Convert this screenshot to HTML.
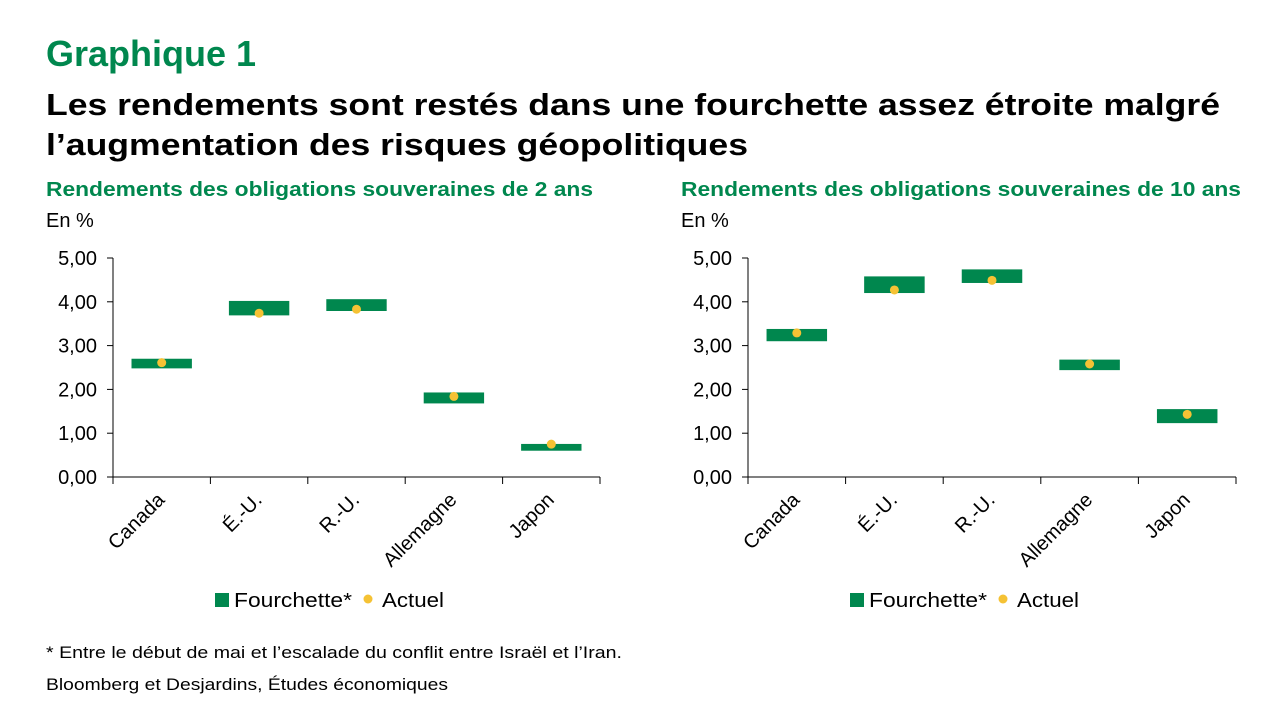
<!DOCTYPE html>
<html><head><meta charset="utf-8"><style>
body{margin:0;background:#fff;}
svg text{font-family:"Liberation Sans",sans-serif;}
</style></head><body>
<svg width="1280" height="720" xmlns="http://www.w3.org/2000/svg">
<text x="46" y="66" font-size="36" font-weight="bold" fill="#00874E">Graphique 1</text>
<text x="46" y="115" font-size="31" font-weight="bold" fill="#000" textLength="1174" lengthAdjust="spacingAndGlyphs">Les rendements sont restés dans une fourchette assez étroite malgré</text>
<text x="46" y="155" font-size="31" font-weight="bold" fill="#000" textLength="702" lengthAdjust="spacingAndGlyphs">l’augmentation des risques géopolitiques</text>
<text x="46" y="196" font-size="20" font-weight="bold" fill="#00874E" textLength="547" lengthAdjust="spacingAndGlyphs">Rendements des obligations souveraines de 2 ans</text>
<text x="681" y="196" font-size="20" font-weight="bold" fill="#00874E" textLength="560" lengthAdjust="spacingAndGlyphs">Rendements des obligations souveraines de 10 ans</text>
<text x="46" y="227" font-size="20" fill="#000">En %</text>
<text x="681" y="227" font-size="20" fill="#000">En %</text>
<text x="46" y="658" font-size="17" fill="#000" textLength="576" lengthAdjust="spacingAndGlyphs">* Entre le début de mai et l’escalade du conflit entre Israël et l’Iran.</text>
<text x="46" y="690" font-size="17" fill="#000" textLength="402" lengthAdjust="spacingAndGlyphs">Bloomberg et Desjardins, Études économiques</text>
</svg>
<script>
function chart(x0,xe,data){
 var s=document.querySelector('svg'),h='';
 var y0=477,u=43.8,w=(xe-x0)/5;
 h+='<line x1="'+x0+'" y1="258" x2="'+x0+'" y2="'+y0+'" stroke="#000" stroke-width="1"/>';
 h+='<line x1="'+x0+'" y1="'+y0+'" x2="'+xe+'" y2="'+y0+'" stroke="#000" stroke-width="1"/>';
 for(var i=0;i<=5;i++){var y=y0-i*u;h+='<line x1="'+(x0-6)+'" y1="'+y+'" x2="'+x0+'" y2="'+y+'" stroke="#000"/>';
  h+='<text x="'+(x0-16)+'" y="'+(y+7)+'" font-size="20" text-anchor="end">'+i+',00</text>';}
 for(var i=0;i<=5;i++){var x=x0+i*w;h+='<line x1="'+x+'" y1="'+y0+'" x2="'+x+'" y2="'+(y0+7)+'" stroke="#000"/>';}
 var names=['Canada','É.-U.','R.-U.','Allemagne','Japon'];
 data.forEach(function(d,i){var cx=x0+(i+0.5)*w;
  h+='<rect x="'+(x0+(i+0.19)*w)+'" y="'+(y0-d[0]*u)+'" width="'+(0.62*w)+'" height="'+((d[0]-d[1])*u)+'" fill="#00874E"/>';
  h+='<circle cx="'+cx+'" cy="'+(y0-d[2]*u)+'" r="4.5" fill="#F5C234"/>';
  h+='<text transform="translate('+(cx+4)+','+(y0+24)+') rotate(-45)" font-size="20" text-anchor="end">'+names[i]+'</text>';
 });
 var lx=x0+102;
 h+='<rect x="'+lx+'" y="593" width="14" height="14" fill="#00874E"/><text x="'+(lx+19)+'" y="607" font-size="20" textLength="118" lengthAdjust="spacingAndGlyphs">Fourchette*</text>';
 h+='<circle cx="'+(lx+153)+'" cy="599" r="4.5" fill="#F5C234"/><text x="'+(lx+167)+'" y="607" font-size="20" textLength="62" lengthAdjust="spacingAndGlyphs">Actuel</text>';
 s.insertAdjacentHTML('beforeend',h);
}
chart(113,600,[[2.70,2.48,2.61],[4.02,3.69,3.74],[4.06,3.79,3.83],[1.93,1.68,1.84],[0.755,0.60,0.75]]);
chart(748,1236,[[3.38,3.10,3.29],[4.58,4.20,4.27],[4.74,4.43,4.49],[2.68,2.44,2.58],[1.55,1.23,1.43]]);
</script>
</body></html>
